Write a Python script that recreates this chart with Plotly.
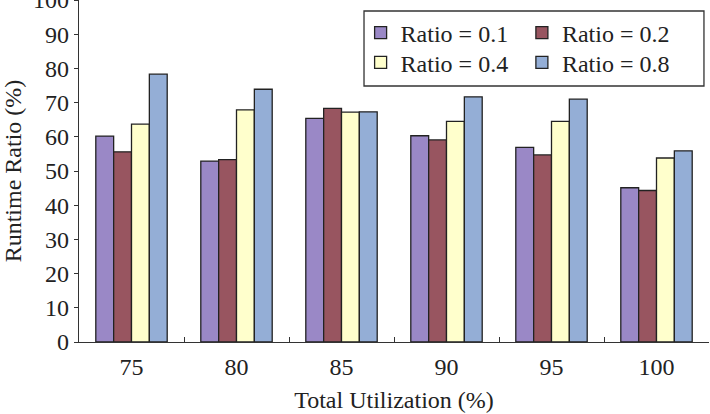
import plotly.graph_objects as go

categories = ["75", "80", "85", "90", "95", "100"]
series_names = ["Ratio = 0.1", "Ratio = 0.2", "Ratio = 0.4", "Ratio = 0.8"]
ratio_01 = [60.2, 52.9, 65.4, 60.3, 56.9, 45.1]
ratio_02 = [55.6, 53.3, 68.3, 59.1, 54.7, 44.3]
ratio_04 = [63.7, 67.9, 67.2, 64.5, 64.5, 53.8]
ratio_08 = [78.3, 73.9, 67.3, 71.7, 71.0, 55.9]
colors = ["#9A88C6", "#985560", "#FFFFCC", "#94AED6"]
legend_slot = ["legend", "legend2", "legend3", "legend4"]
y_ticks = [0, 10, 20, 30, 40, 50, 60, 70, 80, 90, 100]

font_family = "Liberation Serif, Times New Roman, serif"
FS = 24

fig = go.Figure()
for name, vals, col, lg in zip(series_names, [ratio_01, ratio_02, ratio_04, ratio_08], colors, legend_slot):
    fig.add_trace(go.Bar(
        x=categories, y=vals, name=name, legend=lg,
        marker=dict(color=col, line=dict(color="#222222", width=1.3)),
    ))

legend_common = dict(
    orientation="v", yanchor="top", xanchor="left",
    bgcolor="rgba(0,0,0,0)", borderwidth=0,
    font=dict(family=font_family, size=FS, color="#222222"),
    tracegroupgap=0, itemwidth=30,
)

col_x = [0.447, 0.703]
row_y = [0.969, 0.882]

fig.update_layout(
    width=710, height=414,
    margin=dict(l=79, r=1, t=0, b=72, autoexpand=False),
    paper_bgcolor="white", plot_bgcolor="white",
    barmode="group", bargap=0.32, bargroupgap=0,
    font=dict(family=font_family, size=FS, color="#222222"),
    showlegend=True,
    legend=dict(x=col_x[0], y=row_y[0], **legend_common),
    legend2=dict(x=col_x[1], y=row_y[0], **legend_common),
    legend3=dict(x=col_x[0], y=row_y[1], **legend_common),
    legend4=dict(x=col_x[1], y=row_y[1], **legend_common),
    shapes=[dict(
        type="rect", xref="paper", yref="paper",
        x0=0.4524, x1=0.992, y0=0.7485, y1=0.9678,
        line=dict(color="#333333", width=1.3), fillcolor="rgba(0,0,0,0)",
        layer="above",
    )],
    xaxis=dict(
        type="category", automargin=False,
        showline=True, linecolor="#333333", linewidth=1.3,
        ticks="inside", tickson="boundaries", ticklen=5, tickcolor="#333333",
        showgrid=False,
        tickfont=dict(size=FS), ticklabelstandoff=3,
        title=dict(text="Total Utilization (%)", font=dict(size=FS), standoff=12),
    ),
    yaxis=dict(
        range=[0, 100], tickvals=y_ticks, automargin=False,
        showline=True, linecolor="#333333", linewidth=1.3,
        ticks="outside", ticklen=4, tickcolor="#333333",
        showgrid=False, zeroline=False,
        tickfont=dict(size=FS),
        ticklabeloverflow="allow",
        title=dict(text="Runtime Ratio (%)", font=dict(size=FS), standoff=14),
    ),
)

fig.write_html("out.html")
